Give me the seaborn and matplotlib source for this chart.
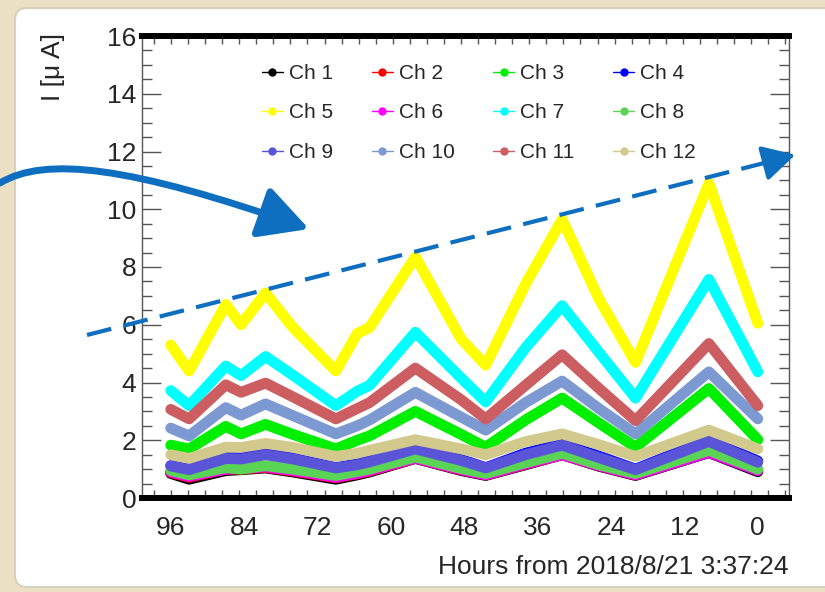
import numpy as np
import pandas as pd
import matplotlib
matplotlib.use("Agg")
import matplotlib.pyplot as plt
import seaborn as sns
from matplotlib.lines import Line2D
from matplotlib.patches import FancyBboxPatch, FancyArrowPatch
from matplotlib.path import Path
from matplotlib.ticker import FixedLocator, MultipleLocator
from matplotlib.transforms import IdentityTransform

# hours before 2018/8/21 3:37:24 (axis runs 96 -> 0)
hours = [96, 93, 87, 84.5, 80.5, 76, 69, 65.5, 63.5, 56, 48.5, 44.5, 38, 32, 26, 20, 8, 0]

ch1 = [0.85, 0.65, 0.95, 0.98, 1.04, 0.90, 0.65, 0.80, 0.90, 1.37, 0.95, 0.78, 1.15, 1.50, 1.10, 0.78, 1.57, 0.91]
ch2 = [0.88, 0.72, 1.00, 1.00, 1.06, 0.93, 0.70, 0.84, 0.93, 1.38, 0.97, 0.80, 1.17, 1.50, 1.12, 0.80, 1.60, 0.98]
ch3 = [1.83, 1.70, 2.48, 2.22, 2.55, 2.20, 1.70, 2.00, 2.15, 3.00, 2.20, 1.76, 2.70, 3.46, 2.60, 1.76, 3.79, 2.02]
ch4 = [1.12, 1.00, 1.40, 1.40, 1.55, 1.38, 1.05, 1.18, 1.30, 1.76, 1.33, 1.05, 1.55, 1.88, 1.45, 1.00, 2.02, 1.28]
ch5 = [5.30, 4.40, 6.70, 6.00, 7.10, 5.90, 4.40, 5.70, 5.90, 8.35, 5.50, 4.60, 7.40, 9.65, 6.90, 4.70, 10.90, 6.05]
ch6 = [0.90, 0.75, 1.00, 1.02, 1.08, 0.95, 0.72, 0.85, 0.95, 1.38, 0.98, 0.80, 1.18, 1.50, 1.12, 0.80, 1.58, 0.95]
ch7 = [3.72, 3.20, 4.57, 4.24, 4.90, 4.25, 3.20, 3.70, 3.90, 5.74, 4.15, 3.33, 5.20, 6.66, 5.05, 3.46, 7.57, 4.37]
ch8 = [0.95, 0.80, 1.05, 1.00, 1.12, 1.00, 0.78, 0.92, 1.00, 1.42, 1.02, 0.85, 1.22, 1.55, 1.15, 0.85, 1.65, 1.00]
ch9 = [1.11, 0.98, 1.37, 1.35, 1.50, 1.35, 1.04, 1.15, 1.25, 1.70, 1.30, 1.04, 1.50, 1.83, 1.40, 0.98, 1.96, 1.24]
ch10 = [2.42, 2.15, 3.13, 2.87, 3.26, 2.85, 2.22, 2.50, 2.70, 3.66, 2.80, 2.35, 3.30, 4.05, 3.10, 2.22, 4.37, 2.74]
ch11 = [3.07, 2.74, 3.92, 3.66, 3.98, 3.50, 2.74, 3.10, 3.30, 4.50, 3.40, 2.74, 3.90, 4.96, 3.80, 2.68, 5.35, 3.20]
ch12 = [1.50, 1.37, 1.76, 1.75, 1.89, 1.75, 1.44, 1.55, 1.65, 2.02, 1.70, 1.50, 1.95, 2.22, 1.85, 1.44, 2.35, 1.70]

channels = ["Ch 1", "Ch 2", "Ch 3", "Ch 4", "Ch 5", "Ch 6",
            "Ch 7", "Ch 8", "Ch 9", "Ch 10", "Ch 11", "Ch 12"]
series = [ch1, ch2, ch3, ch4, ch5, ch6, ch7, ch8, ch9, ch10, ch11, ch12]
colors = ["#000000", "#ff0000", "#00ee00", "#0000ff", "#ffff00", "#ff00ff",
          "#00ffff", "#59d454", "#5954d8", "#7d99d1", "#cc5e61", "#d2c98c"]

xticks = [96, 84, 72, 60, 48, 36, 24, 12, 0]
yticks = [0, 2, 4, 6, 8, 10, 12, 14, 16]

df = pd.concat([pd.DataFrame({"channel": name, "hours": hours, "current": vals})
                for name, vals in zip(channels, series)], ignore_index=True)

sns.set_style("white")
plt.rcParams["font.family"] = ["Liberation Sans", "DejaVu Sans"]

W, H = 825, 592
fig = plt.figure(figsize=(W / 100, H / 100), dpi=100, facecolor="#ebe0c3")

# white card behind the plot
card = FancyBboxPatch((15, 5), 840, 579, boxstyle="round,pad=0,rounding_size=12",
                      transform=IdentityTransform(), facecolor="white",
                      edgecolor="#d9cfbd", linewidth=1.5, zorder=-1)
fig.add_artist(card)

ax = fig.add_axes([142 / W, (H - 498) / H, (789 - 142) / W, (498 - 36) / H])
ax.set_facecolor("white")

sns.lineplot(data=df, x="hours", y="current", hue="channel", hue_order=channels,
             palette=colors, linewidth=7.8, sort=False, estimator=None,
             legend=False, ax=ax, solid_capstyle="round", solid_joinstyle="round")

ax.set_xlim(100.7, -5.1)
ax.set_ylim(0, 16)
ax.set_xticks(xticks)
ax.set_xticklabels([str(t) for t in xticks])
ax.xaxis.set_minor_locator(FixedLocator(np.arange(-4.48, 101, 2.79)))
ax.set_yticks(yticks)
ax.yaxis.set_minor_locator(MultipleLocator(0.5))

ax.tick_params(axis="x", which="major", length=0, pad=13, labelsize=19)
ax.tick_params(axis="x", which="minor", direction="in", length=5.8, width=1,
               color="#555555", top=True, bottom=True)
ax.tick_params(axis="y", which="major", direction="in", length=13.7, width=1,
               color="#555555", left=True, right=True, pad=4, labelsize=19)
ax.tick_params(axis="y", which="minor", direction="in", length=7.2, width=1,
               color="#555555", left=True, right=True)

for side in ["top", "bottom"]:
    ax.spines[side].set_linewidth(4.3)
    ax.spines[side].set_color("black")
for side in ["left", "right"]:
    ax.spines[side].set_linewidth(1)
    ax.spines[side].set_color("#555555")

ax.set_xlabel("Hours from 2018/8/21 3:37:24", loc="right", fontsize=19, labelpad=11)
ax.set_ylabel("I [\u03bc A]", loc="top", fontsize=19)
ax.yaxis.set_label_coords(-0.119, 1.007)

# legend, filled row by row like the original
handles = [Line2D([], [], color=c, marker="o", markersize=5, linewidth=1, label=n)
           for n, c in zip(channels, colors)]
order = [0, 4, 8, 1, 5, 9, 2, 6, 10, 3, 7, 11]
ax.legend([handles[i] for i in order], [channels[i] for i in order], ncol=4,
          loc="upper left", bbox_to_anchor=(262 / W, 1 - 64 / H),
          bbox_transform=fig.transFigure, frameon=False, fontsize=15,
          handlelength=1.0, handletextpad=0.3, columnspacing=1.85,
          labelspacing=0.98, borderpad=0, borderaxespad=0)

# blue annotation arrows
blue = "#0e6ebf"
curve = Path([(0, H - 183), (45, H - 156), (130, H - 166), (309, H - 229)],
             [Path.MOVETO, Path.CURVE4, Path.CURVE4, Path.CURVE4])
fig.add_artist(FancyArrowPatch(path=curve, transform=IdentityTransform(),
                               arrowstyle="-|>,head_length=1.5,head_width=0.8",
                               mutation_scale=20, color=blue, linewidth=5, zorder=5))
fig.add_artist(Line2D([87, 780], [H - 335, H - 159], transform=IdentityTransform(),
                      color=blue, linewidth=3, linestyle=(0, (6, 3)), zorder=5))
fig.add_artist(FancyArrowPatch((772, H - 161), (798, H - 154), transform=IdentityTransform(),
                               arrowstyle="-|>,head_length=1.1,head_width=0.6",
                               mutation_scale=18, color=blue, linewidth=3, zorder=5))

fig.savefig("out.png", dpi=100, facecolor=fig.get_facecolor())
